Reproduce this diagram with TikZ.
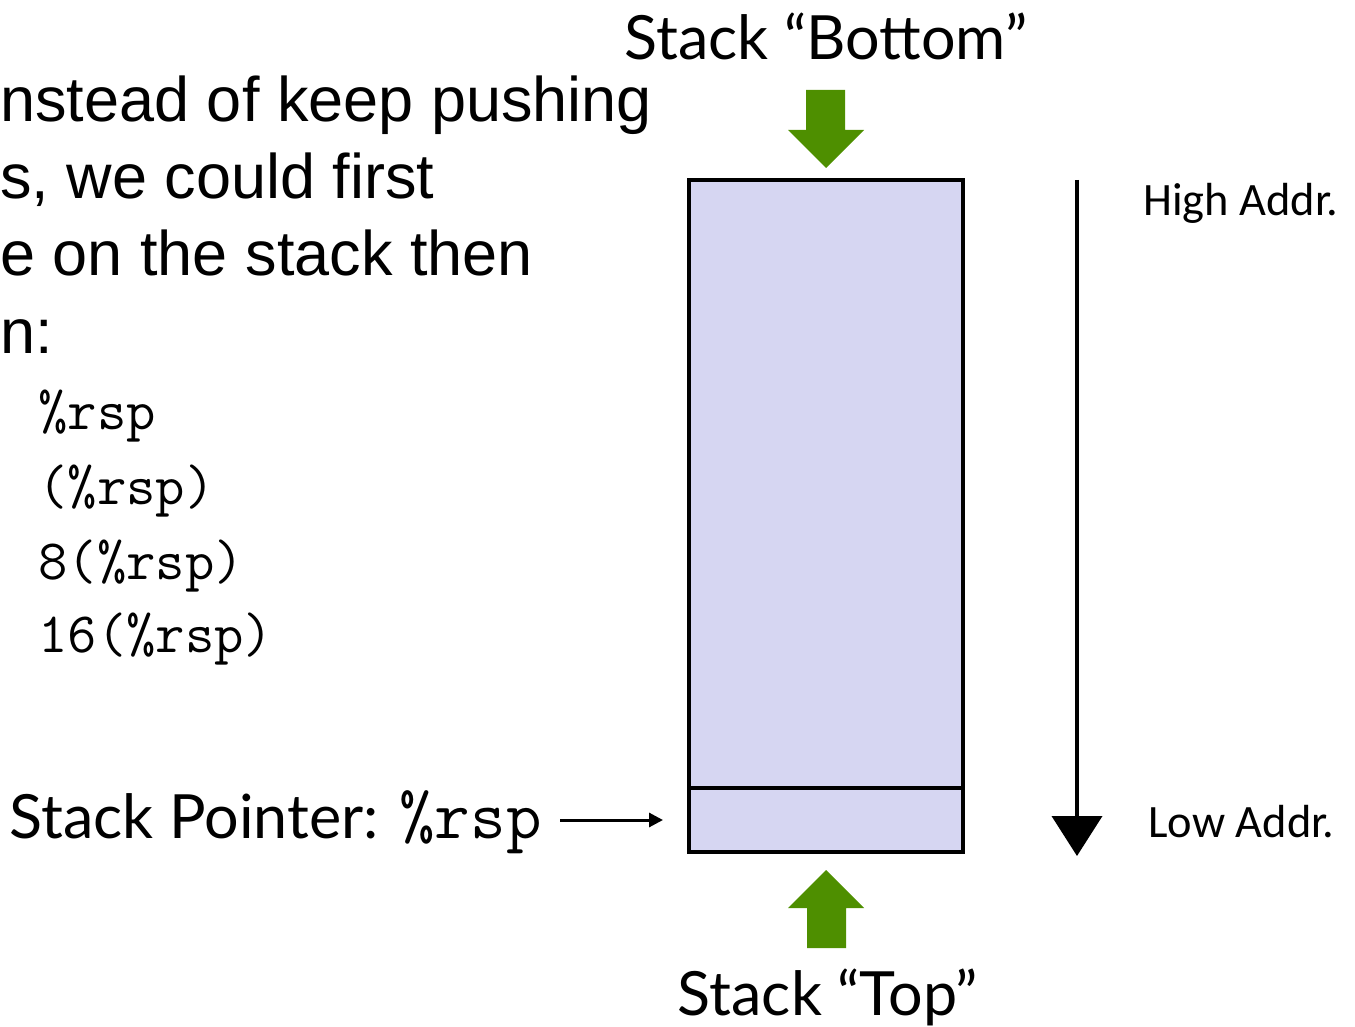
\documentclass[tikz,border=0pt]{standalone}
\usepackage{fontspec}
\setmainfont{Liberation Sans}
\newfontfamily\gillfont{Lato}
\newfontfamily\calfont{Carlito}
\usetikzlibrary{arrows.meta,positioning}
\definecolor{stackfill}{RGB}{214,214,242}
\definecolor{pushgreen}{RGB}{78,143,0}

\begin{document}
\begin{tikzpicture}[
    x=0.5pt, y=-0.5pt,
    slide/.style={
        anchor=base west,
        inner sep=0pt,
        font=\fontsize{31.5}{38}\selectfont
    },
    code/.style={
        anchor=base west,
        inner sep=0pt,
        font=\fontsize{28.5}{32}\ttfamily
    },
    stackbox/.style={
        draw=black,
        line width=2pt,
        fill=stackfill,
        minimum width=137pt,
        inner sep=0pt
    },
    stacklabel/.style={font=\gillfont\fontsize{30.5}{36}\selectfont},
    addrlabel/.style={
        anchor=west,
        inner sep=0pt,
        font=\calfont\fontsize{23.2}{27}\selectfont
    },
    push/.style={fill=pushgreen},
    ptr/.style={-{Triangle[length=7pt,width=7pt]}, line width=1.5pt},
    addr/.style={-{Triangle[length=20pt,width=25pt]}, line width=2pt},
    ]

    \useasboundingbox (0,0) rectangle (1355,1027);

    % text on the left
    \node[slide] (l1) at (0,122) {nstead of keep pushing};
    \node[slide] (l2) at (0,199) {s, we could first};
    \node[slide] (l3) at (0,276) {e on the stack then};
    \node[slide] (l4) at (0,353) {n:};

    \node[code] (c1) at (38,429) {\%rsp};
    \node[code] (c2) at (38,504) {(\%rsp)};
    \node[code] (c3) at (38,579) {8(\%rsp)};
    \node[code] (c4) at (38,652) {16(\%rsp)};

    % the stack
    \node[stackbox, minimum height=304pt] (body) at (826,484) {};
    \node[stackbox, minimum height=32pt] (cell) at (826,820) {};

    \coordinate (downtip) at ([yshift=5pt]body.north);
    \coordinate (uptip) at ([yshift=-8pt]cell.south);
    \fill[push] (downtip) -- ++(-38,-38) -- ++(18,0) -- ++(0,-40) -- ++(39,0)
        -- ++(0,40) -- ++(19,0) -- cycle;
    \fill[push] (uptip) -- ++(-38,38) -- ++(19,0) -- ++(0,40) -- ++(39,0)
        -- ++(0,-40) -- ++(18,0) -- cycle;

    \node[stacklabel] (bottom) at (826,36) {Stack “Bottom”};
    \node[stacklabel] (top) at (828,997) {Stack “Top”};

    % stack pointer
    \node[anchor=base east, inner sep=0pt] (sp) at (542,838)
        {\gillfont\fontsize{30.5}{36}\selectfont Stack Pointer: \fontsize{34.5}{40}\ttfamily\%rsp};
    \draw[ptr] ([xshift=9pt]sp.east |- cell.west) -- ([xshift=-12pt]cell.west);

    % addresses
    \coordinate (hi) at (1077,180);
    \coordinate (lo) at (1077,856);
    \draw[addr] (hi) -- (lo);
    \node[addrlabel] (high) at (1143,203) {High Addr.};
    \node[addrlabel] (low) at (1148,822) {Low Addr.};
\end{tikzpicture}
\end{document}
